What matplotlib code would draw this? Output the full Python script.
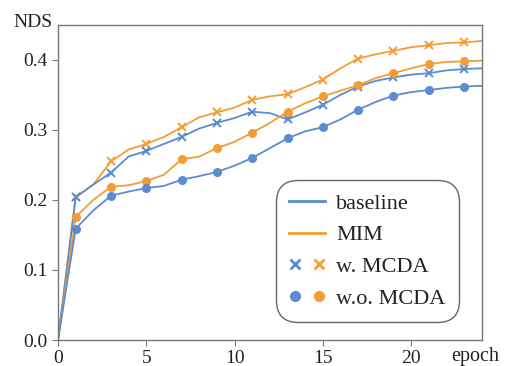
import numpy as np
import matplotlib
matplotlib.use("Agg")
import matplotlib.pyplot as plt
from matplotlib.lines import Line2D
from matplotlib.legend_handler import HandlerTuple

# %% data (NDS per epoch)

epochs = np.arange(0, 25)

baseline_w = [0.000, 0.204, 0.222, 0.239, 0.262, 0.270, 0.280, 0.290, 0.302, 0.310,
              0.317, 0.326, 0.324, 0.315, 0.325, 0.336, 0.350, 0.362, 0.370, 0.375,
              0.379, 0.381, 0.385, 0.387, 0.388]
mim_w = [0.000, 0.204, 0.222, 0.255, 0.272, 0.280, 0.290, 0.304, 0.318, 0.325,
         0.332, 0.343, 0.348, 0.351, 0.361, 0.372, 0.388, 0.402, 0.408, 0.413,
         0.418, 0.421, 0.424, 0.425, 0.427]
baseline_wo = [0.000, 0.159, 0.185, 0.206, 0.212, 0.217, 0.220, 0.229, 0.234, 0.240,
               0.249, 0.260, 0.274, 0.288, 0.298, 0.304, 0.315, 0.329, 0.340, 0.349,
               0.354, 0.357, 0.360, 0.362, 0.363]
mim_wo = [0.000, 0.176, 0.200, 0.219, 0.221, 0.227, 0.236, 0.258, 0.262, 0.274,
          0.283, 0.296, 0.310, 0.326, 0.338, 0.348, 0.356, 0.364, 0.374, 0.381,
          0.388, 0.394, 0.397, 0.398, 0.399]

xticks = [0, 5, 10, 15, 20]
yticks = [0.0, 0.1, 0.2, 0.3, 0.4]

# %% plot

blue = "#5b8bd0"
orange = "#f49d33"
plt.rcParams['font.family'] = ['Liberation Serif', 'DejaVu Serif']

fig = plt.figure(figsize=(5.08, 3.66), dpi=100)
ax = fig.add_axes([0.1142, 0.071, 0.834, 0.861])

mk = dict(markevery=slice(1, None, 2), lw=1.3, ms=5.5)
ax.plot(epochs, mim_w, color=orange, marker='x', mew=1.4, **mk)
ax.plot(epochs, baseline_w, color=blue, marker='x', mew=1.4, **mk)
ax.plot(epochs, mim_wo, color=orange, marker='o', **mk)
ax.plot(epochs, baseline_wo, color=blue, marker='o', **mk)

ax.set_xlim(0, 24)
ax.set_ylim(0, 0.45)
ax.set_xticks(xticks)
ax.set_yticks(yticks)
ax.set_yticklabels([f"{v:.1f}" for v in yticks])
ax.tick_params(labelsize=14, length=4, color="#777777", colors="#222222")
for s in ax.spines.values():
    s.set_color("#777777")
    s.set_linewidth(1.0)

ax.text(-0.012, 0.994, "NDS", transform=ax.transAxes, ha='right', va='baseline',
        fontsize=14, color="#222222")
ax.text(0.929, -0.067, "epoch", transform=ax.transAxes, ha='left', va='baseline',
        fontsize=14.5, color="#222222")

h_base = Line2D([], [], color=blue, lw=2)
h_mim = Line2D([], [], color=orange, lw=2)
h_xb = Line2D([], [], color=blue, marker='x', ls='none', ms=7, mew=2)
h_xo = Line2D([], [], color=orange, marker='x', ls='none', ms=7, mew=2)
h_ob = Line2D([], [], color=blue, marker='o', ls='none', ms=7)
h_oo = Line2D([], [], color=orange, marker='o', ls='none', ms=7)

leg = ax.legend([h_base, h_mim, (h_xb, h_xo), (h_ob, h_oo)],
                ["baseline", "MIM", "w. MCDA", "w.o. MCDA"],
                handler_map={tuple: HandlerTuple(ndivide=None, pad=0.6)},
                loc='upper right', bbox_to_anchor=(0.946, 0.508), borderaxespad=0,
                fontsize=16, handlelength=1.6, handletextpad=0.5, labelspacing=0.5,
                borderpad=0.6, fancybox=True, framealpha=1)
frame = leg.get_frame()
frame.set_edgecolor("#666666")
frame.set_linewidth(1.0)
frame.set_boxstyle("round,pad=0.,rounding_size=1.0")
for t in leg.get_texts():
    t.set_color("#222222")

plt.savefig("out.png", dpi=100)
